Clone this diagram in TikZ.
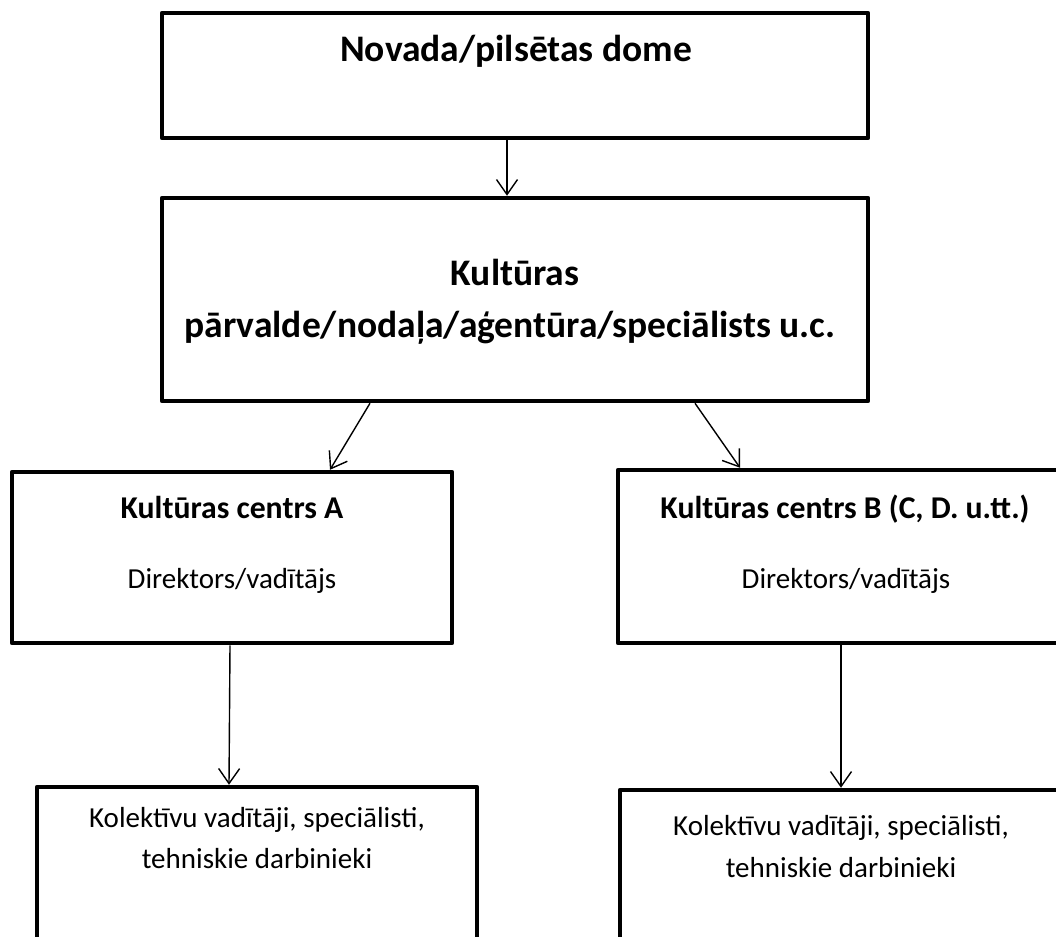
\documentclass[tikz,border=0pt]{standalone}
\usepackage{fontspec}
\setmainfont{Carlito}
\usetikzlibrary{arrows.meta}
\tikzset{
  box/.style={draw=black, line width=4.5pt, rectangle, line join=round, inner sep=0pt, fill=white},
  arr/.style={draw=black, line width=1.4pt, -{Straight Barb[length=15pt,width=21pt,line width=1.4pt]}},
  big/.style={font=\fontsize{37.5}{44}\selectfont\bfseries, anchor=base, inner sep=0pt},
  head/.style={font=\fontsize{31.7}{38}\selectfont\bfseries, anchor=base, inner sep=0pt},
  txt/.style={font=\fontsize{29}{35}\selectfont, anchor=base, inner sep=0pt}
}
\begin{document}
\begin{tikzpicture}[x=1pt,y=-1pt]
\useasboundingbox[fill=white] (0,0) rectangle (1056,936);
\clip (0,0) rectangle (1056,936);
% boxes
\node[box, minimum width=706pt, minimum height=125pt] (top) at (515,75.5) {};
\node[box, minimum width=706pt, minimum height=203pt] (mid) at (515,299.5) {};
\node[box, minimum width=440pt, minimum height=171pt] (ca) at (232,557.5) {};
\node[box, minimum width=454pt, minimum height=173pt] (cb) at (845,556.5) {};
\node[box, minimum width=440pt, minimum height=180pt] (ka) at (257,877) {};
\node[box, minimum width=442pt, minimum height=180pt] (kb) at (841,880) {};
% texts
\node[big] (t1) at (516,62) {Novada/pilsētas dome};
\node[big] (t2a) at (515,285) {Kultūras};
\node[big] (t2b) at (510,337) {pārvalde/nodaļa/aģentūra/speciālists u.c.};
\node[head] (tah) at (232,518) {Kultūras centrs A};
\node[txt] (tad) at (232,588) {Direktors/vadītājs};
\node[head] (tbh) at (845,518) {Kultūras centrs B (C, D. u.tt.)};
\node[txt] (tbd) at (846,588) {Direktors/vadītājs};
\node[txt] (tka1) at (257,827) {Kolektīvu vadītāji, speciālisti,};
\node[txt] (tka2) at (257,868) {tehniskie darbinieki};
\node[txt] (tkb1) at (841,835) {Kolektīvu vadītāji, speciālisti,};
\node[txt] (tkb2) at (841,877) {tehniskie darbinieki};
% connectors
\draw[arr] ([xshift=-8pt]top.south) -- ([xshift=-8pt]mid.north);
\draw[arr] ([xshift=-145pt]mid.south) -- ([xshift=98pt]ca.north);
\draw[arr] ([xshift=180pt]mid.south) -- ([xshift=-105pt]cb.north);
\draw[arr] ([xshift=-2pt]ca.south) -- ([xshift=-28pt]ka.north);
\draw[arr] ([xshift=-4pt]cb.south) -- ([xshift=0pt]kb.north);
\end{tikzpicture}
\end{document}
